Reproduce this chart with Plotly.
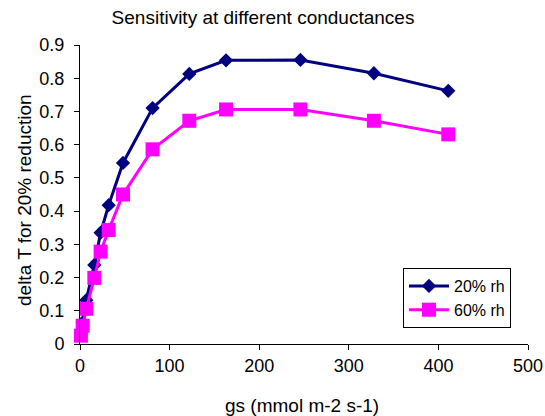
import plotly.graph_objects as go

gs = [1, 3, 7, 16, 23, 32, 48, 81, 122, 163, 246, 328, 411]
rh20 = [0.03, 0.065, 0.132, 0.238, 0.335, 0.418, 0.545, 0.71, 0.813, 0.854, 0.855, 0.815, 0.762]
rh60 = [0.025, 0.055, 0.106, 0.199, 0.278, 0.343, 0.45, 0.586, 0.672, 0.706, 0.706, 0.672, 0.631]
x_ticks = [0, 100, 200, 300, 400, 500]
y_ticks = [0, 0.1, 0.2, 0.3, 0.4, 0.5, 0.6, 0.7, 0.8, 0.9]

FONT = "Arial, Liberation Sans, sans-serif"

W, H = 545, 416
L, R, T, B = 80, 17, 45, 72
PW, PH = W - L - R, H - T - B

fig = go.Figure()
fig.add_trace(go.Scatter(
    x=gs, y=rh20, name="20% rh", mode="lines+markers",
    line=dict(color="#000080", width=3),
    marker=dict(symbol="diamond", size=11, color="#000080"),
    cliponaxis=False,
))
fig.add_trace(go.Scatter(
    x=gs, y=rh60, name="60% rh", mode="lines+markers",
    line=dict(color="#FF00FF", width=3),
    marker=dict(symbol="square", size=14, color="#FF00FF"),
    cliponaxis=False,
))

fig.update_layout(
    width=W, height=H,
    margin=dict(l=L, r=R, t=T, b=B, autoexpand=False),
    paper_bgcolor="white", plot_bgcolor="white",
    font=dict(family=FONT, color="black", size=18),
    title=dict(text="Sensitivity at different conductances", x=263/W, xanchor="center",
               y=1 - 17/H, yanchor="middle", font=dict(size=19)),
    legend=dict(x=(403 - L) / PW, y=(H - B - 268) / PH, xanchor="left", yanchor="top",
                bgcolor="white", bordercolor="black", borderwidth=1,
                font=dict(size=16), itemwidth=40),
    showlegend=True,
    annotations=[
        dict(text="gs (mmol m-2 s-1)", xref="paper", yref="paper",
             x=(302 - L) / PW, y=(H - B - 405) / PH, xanchor="center", yanchor="middle",
             showarrow=False, font=dict(size=19)),
        dict(text="delta T for 20% reduction", xref="paper", yref="paper",
             x=(24 - L) / PW, y=(H - B - 200) / PH, xanchor="center", yanchor="middle",
             textangle=-90, showarrow=False, font=dict(size=19)),
    ],
)
fig.update_xaxes(
    range=[0, 500], tickvals=x_ticks, ticks="outside", ticklen=5, tickcolor="black",
    showline=True, linecolor="black", linewidth=1, showgrid=False, zeroline=False,
    tickfont=dict(size=18), automargin=False,
)
fig.update_yaxes(
    range=[0, 0.9], tickvals=y_ticks, ticks="outside", ticklen=5, tickcolor="black",
    showline=True, linecolor="black", linewidth=1, showgrid=False, zeroline=False,
    tickfont=dict(size=18), automargin=False, ticklabelstandoff=6,
)

fig.write_html("out.html",
               config={"displayModeBar": False},
               post_script="document.body.style.margin='0';document.body.style.padding='0';")
